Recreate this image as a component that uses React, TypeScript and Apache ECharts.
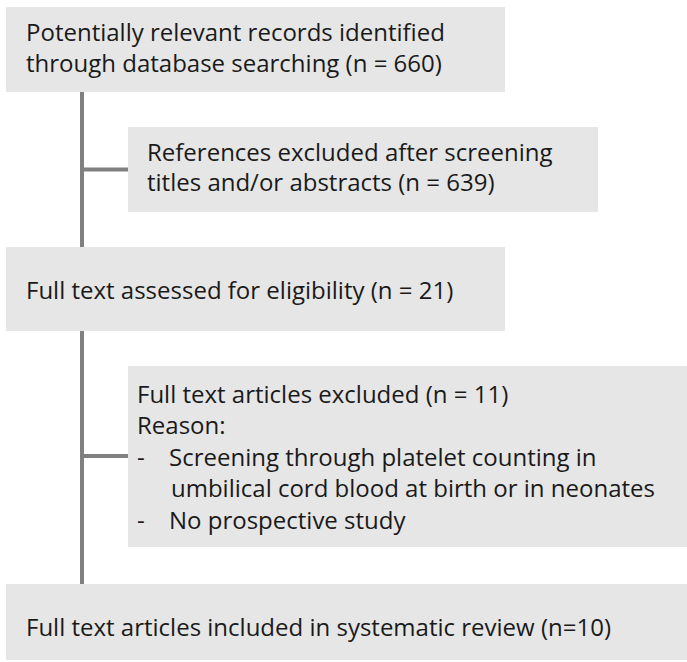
import React, { useEffect, useRef } from "react";
import * as echarts from "echarts";

// Flow chart content
const box1Lines = ["Potentially relevant records identified", "through database searching (n = 660)"];
const box2Lines = ["References excluded after screening", "titles and/or abstracts (n = 639)"];
const box3Lines = ["Full text assessed for eligibility (n = 21)"];
const box4Lines = ["Full text articles excluded (n = 11)", "Reason:"];
const box4Bullets = [
  ["Screening through platelet counting in", "umbilical cord blood at birth or in neonates"],
  ["No prospective study"],
];
const box5Lines = ["Full text articles included in systematic review (n=10)"];

const FILL = "#e6e6e6";
const LINE = "#808080";
const TEXT = "#1a1a1a";
const FONT = "Open Sans";
const FS = 24;

export default function App() {
  const ref = useRef<HTMLDivElement>(null);
  useEffect(() => {
    if (!ref.current) return;
    const chart = echarts.init(ref.current, null, { renderer: "svg" });
    const els: any[] = [];
    const rect = (x: number, y: number, w: number, h: number) =>
      els.push({ type: "rect", shape: { x, y, width: w, height: h }, style: { fill: FILL } });
    const line = (x1: number, y1: number, x2: number, y2: number) =>
      els.push({ type: "line", shape: { x1, y1, x2, y2 }, style: { stroke: LINE, lineWidth: 4 } });
    const text = (s: string, x: number, y: number) =>
      els.push({
        type: "text",
        x,
        y,
        style: { text: s, fill: TEXT, font: `${FS}px "${FONT}"`, align: "left", verticalAlign: "middle" },
      });

    // boxes
    rect(6, 7, 499, 85);
    rect(128, 127, 470, 85);
    rect(6, 247, 499, 84);
    rect(128, 366, 559, 181);
    rect(6, 584, 681, 76);
    // connectors
    line(82, 92, 82, 247);
    line(82, 169.5, 128, 169.5);
    line(82, 331, 82, 584);
    line(82, 456, 128, 456);

    const lh = 31;
    box1Lines.forEach((s, i) => text(s, 26, 31.5 + i * lh));
    box2Lines.forEach((s, i) => text(s, 147, 151.5 + i * 30));
    box3Lines.forEach((s, i) => text(s, 26, 289 + i * lh));
    box4Lines.forEach((s, i) => text(s, 137, 393 + i * 31.6));
    let row = box4Lines.length;
    box4Bullets.forEach((b) => {
      b.forEach((s, j) => {
        const y = 393 + row * 31.6;
        if (j === 0) text("-", 137, y);
        text(s, j === 0 ? 169 : 171, y);
        row++;
      });
    });
    box5Lines.forEach((s, i) => text(s, 26, 626 + i * lh));

    chart.setOption({ animation: false, graphic: { elements: els } });
    return () => chart.dispose();
  }, []);
  return <div ref={ref} style={{ position: "absolute", left: 0, top: 0, width: 687, height: 662 }} />;
}
